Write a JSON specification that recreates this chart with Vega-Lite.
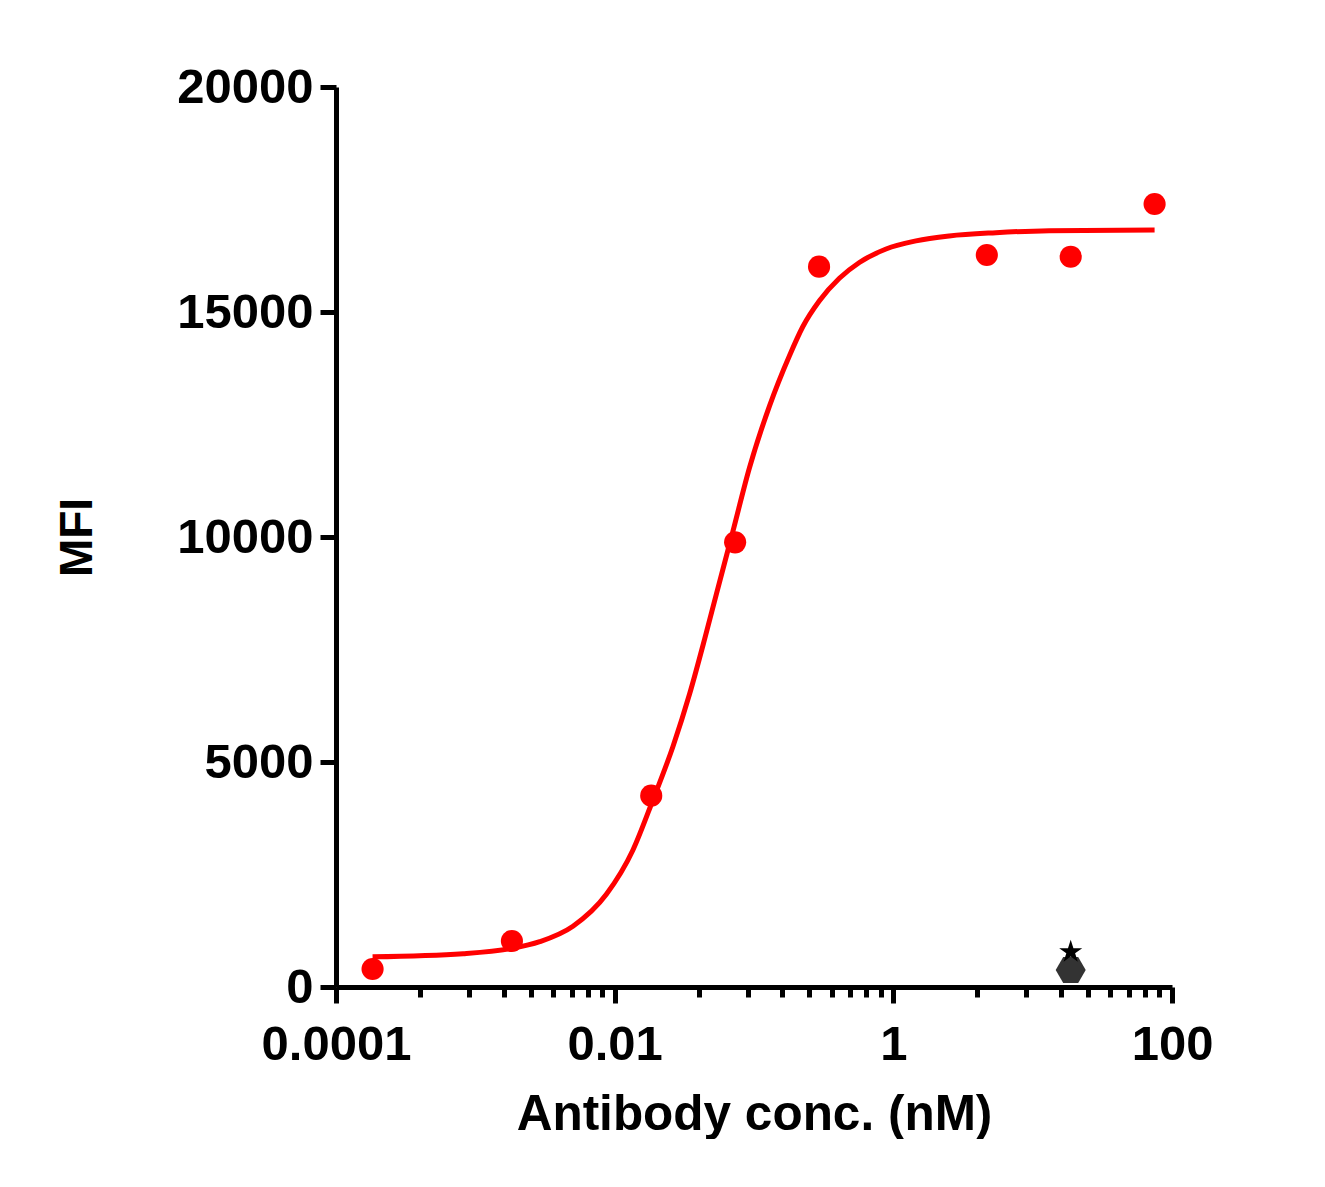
{
  "$schema": "https://vega.github.io/schema/vega-lite/v6.json",
  "width": 836,
  "height": 900,
  "autosize": {"type": "pad"},
  "padding": {"left": 54, "top": 63, "right": 0, "bottom": 0},
  "background": "white",
  "config": {"view": {"stroke": null}, "font": "Liberation Sans"},
  "datasets": {
    "curve": [
      {"conc": 0.000183, "mfi": 670},
      {"conc": 0.000818, "mfi": 740},
      {"conc": 0.001817, "mfi": 855},
      {"conc": 0.0029, "mfi": 1007},
      {"conc": 0.00502, "mfi": 1350},
      {"conc": 0.00872, "mfi": 2060},
      {"conc": 0.01353, "mfi": 3044},
      {"conc": 0.01882, "mfi": 4156},
      {"conc": 0.02617, "mfi": 5340},
      {"conc": 0.03448, "mfi": 6510},
      {"conc": 0.04417, "mfi": 7725},
      {"conc": 0.05358, "mfi": 8720},
      {"conc": 0.07047, "mfi": 10120},
      {"conc": 0.0928, "mfi": 11540},
      {"conc": 0.1291, "mfi": 12910},
      {"conc": 0.1797, "mfi": 14030},
      {"conc": 0.2239, "mfi": 14673},
      {"conc": 0.2948, "mfi": 15250},
      {"conc": 0.4101, "mfi": 15749},
      {"conc": 0.5705, "mfi": 16100},
      {"conc": 0.8865, "mfi": 16400},
      {"conc": 1.454, "mfi": 16580},
      {"conc": 2.52, "mfi": 16689},
      {"conc": 5.447, "mfi": 16762},
      {"conc": 13.13, "mfi": 16807},
      {"conc": 75, "mfi": 16822}
    ],
    "points": [
      {"group": "Antibody", "conc": 0.000183, "mfi": 400},
      {"group": "Antibody", "conc": 0.00183, "mfi": 1022},
      {"group": "Antibody", "conc": 0.0183, "mfi": 4252},
      {"group": "Antibody", "conc": 0.0732, "mfi": 9882},
      {"group": "Antibody", "conc": 0.293, "mfi": 16007},
      {"group": "Antibody", "conc": 4.6875, "mfi": 16267},
      {"group": "Antibody", "conc": 18.75, "mfi": 16229},
      {"group": "Antibody", "conc": 75, "mfi": 17400},
      {"group": "Control A", "conc": 18.75, "mfi": 380},
      {"group": "Control B", "conc": 18.75, "mfi": 780}
    ]
  },
  "encoding": {
    "x": {
      "field": "conc",
      "type": "quantitative",
      "scale": {"type": "log", "domain": [0.0001, 100]},
      "axis": {
        "orient": "bottom",
        "values": [0.0001, 0.0004, 0.0009, 0.0016, 0.0025, 0.0036, 0.0049, 0.0064, 0.0081, 0.01, 0.04, 0.09, 0.16, 0.25, 0.36, 0.49, 0.64, 0.81, 1, 4, 9, 16, 25, 36, 49, 64, 81, 100],
        "labelExpr": "datum.value == 0.0001 ? '0.0001' : datum.value == 0.01 ? '0.01' : datum.value == 1 ? '1' : datum.value == 100 ? '100' : ''",
        "tickSize": {"condition": {"test": "datum.value == 0.0001 || datum.value == 0.01 || datum.value == 1 || datum.value == 100", "value": 16}, "value": 10},
        "tickWidth": 5,
        "tickColor": "black",
        "domainWidth": 5,
        "domainColor": "black",
        "grid": false,
        "labelFontSize": 49,
        "labelFontWeight": "bold",
        "labelColor": "black",
        "labelPadding": 17,
        "labelFlush": false,
        "labelOverlap": false,
        "labelBound": false,
        "title": "Antibody conc. (nM)",
        "titleFontSize": 49.5,
        "titleFontWeight": "bold",
        "titleColor": "black",
        "titleBaseline": "alphabetic",
        "titleX": 418,
        "titleY": 142
      }
    },
    "y": {
      "field": "mfi",
      "type": "quantitative",
      "scale": {"domain": [0, 20000]},
      "axis": {
        "orient": "left",
        "values": [0, 5000, 10000, 15000, 20000],
        "format": "d",
        "tickSize": 16,
        "tickWidth": 5,
        "tickColor": "black",
        "domainWidth": 5,
        "domainColor": "black",
        "grid": false,
        "labelFontSize": 49,
        "labelFontWeight": "bold",
        "labelColor": "black",
        "labelPadding": 7,
        "labelFlush": false,
        "labelOverlap": false,
        "title": "MFI",
        "titleFontSize": 46,
        "titleFontWeight": "bold",
        "titleColor": "black",
        "titleBaseline": "alphabetic",
        "titleAngle": -90,
        "titleX": -245,
        "titleY": 450
      }
    }
  },
  "layer": [
    {
      "data": {"name": "curve"},
      "mark": {"type": "line", "color": "#FF0000", "strokeWidth": 5, "interpolate": "monotone"}
    },
    {
      "data": {"name": "points"},
      "transform": [{"filter": "datum.group == 'Antibody'"}],
      "mark": {"type": "point", "shape": "circle", "filled": true, "opacity": 1, "color": "#FF0000", "size": 490, "strokeWidth": 0}
    },
    {
      "data": {"name": "points"},
      "transform": [{"filter": "datum.group == 'Control A'"}],
      "mark": {"type": "point", "shape": "M-1,0L-0.5,-0.866L0.5,-0.866L1,0L0.5,0.866L-0.5,0.866Z", "filled": true, "opacity": 1, "color": "#333333", "size": 900, "strokeWidth": 0}
    },
    {
      "data": {"name": "points"},
      "transform": [{"filter": "datum.group == 'Control B'"}],
      "mark": {"type": "point", "shape": "M0,-1L0.2245,-0.309L0.951,-0.309L0.363,0.118L0.588,0.809L0,0.382L-0.588,0.809L-0.363,0.118L-0.951,-0.309L-0.2245,-0.309Z", "filled": true, "opacity": 1, "color": "#000000", "size": 585, "strokeWidth": 0}
    }
  ]
}
